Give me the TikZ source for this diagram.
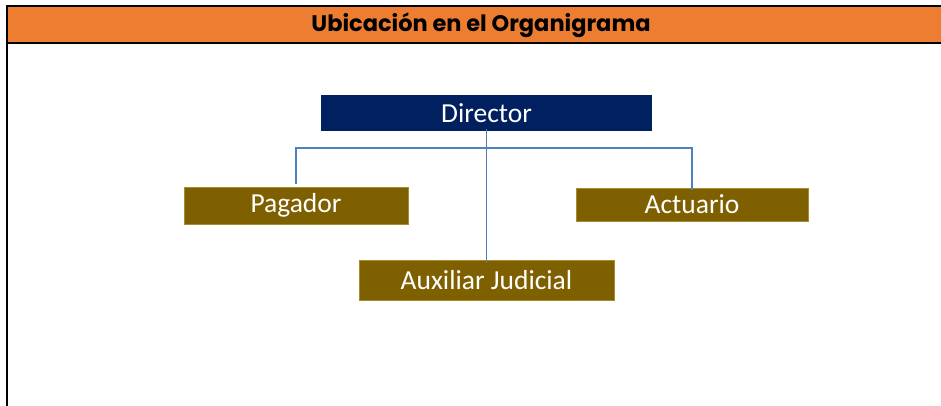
\documentclass[tikz,border=0pt]{standalone}
\usepackage{fontspec}
\setmainfont{Carlito}
\newfontfamily\headfont{Poppins}
\definecolor{headorange}{HTML}{ED7D31}
\definecolor{dirnavy}{HTML}{002060}
\definecolor{unitolive}{HTML}{7F6000}
\definecolor{unitedge}{HTML}{A88B2E}
\definecolor{linkblue}{HTML}{4F81BD}
\begin{document}
\begin{tikzpicture}[x=1pt,y=-1pt,
    dirbox/.style={fill=dirnavy,text=white,inner sep=0pt,font=\fontsize{27.5}{30}\selectfont},
    unitbox/.style={fill=unitolive,draw=unitedge,line width=0.8pt,text=white,inner sep=0pt,font=\fontsize{27.5}{30}\selectfont},
    link/.style={draw=linkblue,line width=1.8pt}]
  \useasboundingbox (0,0) rectangle (941,406);
  \fill[white] (0,0) rectangle (941,406);
  % header band
  \fill[headorange] (7,6) rectangle (941,43);
  \draw[line width=2.5pt] (941,6) -- (7,6) -- (7,406);
  \draw[line width=2.5pt] (7,43) -- (941,43);
  \node (title) at (481,25) {\headfont\bfseries\fontsize{22.5}{26}\selectfont Ubicación en el Organigrama};
  % chart
  \node[dirbox,minimum width=331pt,minimum height=36pt] (dir) at (486.5,113) {Director};
  \node[unitbox,minimum width=224pt,minimum height=37pt] (pag) at (296,205.5) {Pagador};
  \node[unitbox,minimum width=232pt,minimum height=33pt] (act) at (692,204.5) {Actuario};
  \node[unitbox,minimum width=255pt,minimum height=40pt] (aux) at (486.5,280) {Auxiliar Judicial};
  \draw[link] ([yshift=2pt]dir.south) -- ++(0,19) coordinate (junc);
  \draw[link,shorten <=3pt] (pag.north) |- (junc) -| ([yshift=-2pt]act.north);
  \draw[link] (junc) -- ([yshift=-3pt]aux.north);
\end{tikzpicture}
\end{document}
